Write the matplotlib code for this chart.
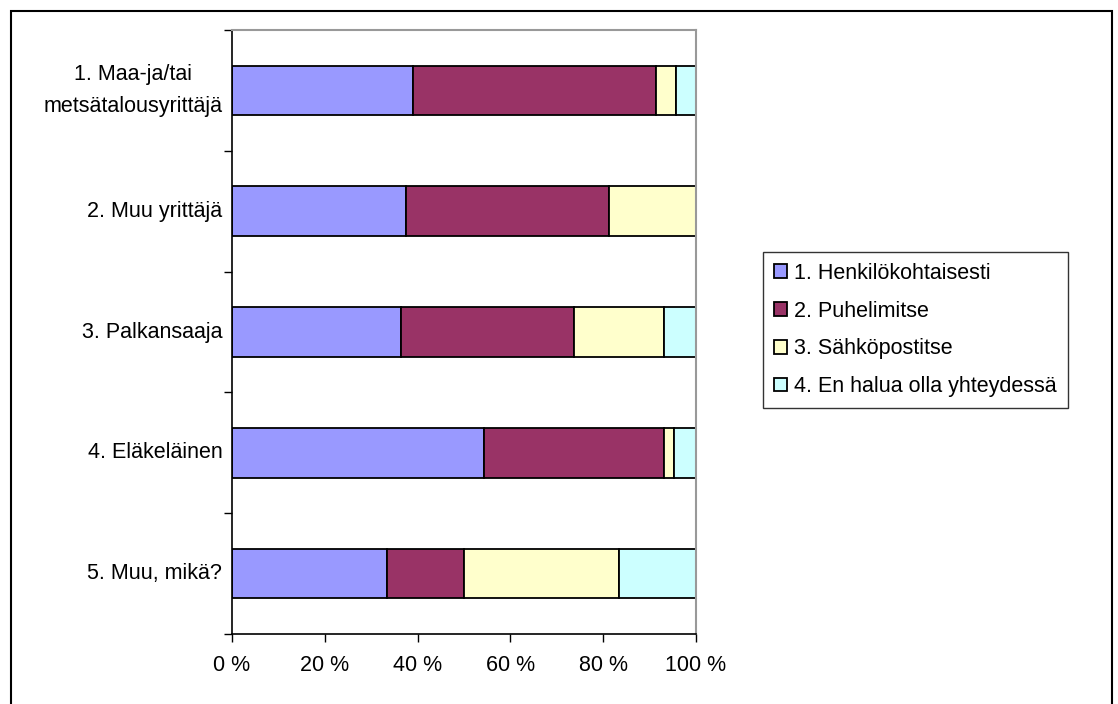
import numpy as np
import matplotlib
matplotlib.use("Agg")
import matplotlib.pyplot as plt
from matplotlib.patches import Rectangle
from matplotlib.ticker import FixedLocator, FuncFormatter

plt.rcParams['font.family'] = ['Liberation Sans', 'DejaVu Sans']

categories = ["1. Maa-ja/tai\nmetsätalousyrittäjä", "2. Muu yrittäjä", "3. Palkansaaja",
              "4. Eläkeläinen", "5. Muu, mikä?"]
series_names = ["1. Henkilökohtaisesti", "2. Puhelimitse", "3. Sähköpostitse",
                "4. En halua olla yhteydessä"]
henkilokohtaisesti = [39.1, 37.5, 36.5, 54.3, 33.3]
puhelimitse = [52.2, 43.75, 37.2, 38.8, 16.7]
sahkopostitse = [4.3, 18.75, 19.4, 2.1, 33.3]
ei_yhteytta = [4.4, 0.0, 6.9, 4.8, 16.7]
colors = ["#9999FF", "#993366", "#FFFFCC", "#CCFFFF"]

W, H = 1118, 704
fs = 15.5
fig = plt.figure(figsize=(W / 100, H / 100), dpi=100)
ax = fig.add_axes([232 / W, (H - 634) / H, 464 / W, 604 / H])

y = np.arange(len(categories))
left = np.zeros(len(categories))
for name, vals, col in zip(series_names,
                           [henkilokohtaisesti, puhelimitse, sahkopostitse, ei_yhteytta],
                           colors):
    vals = np.array(vals)
    ax.barh(y, vals, left=left, height=0.41, color=col, edgecolor="black",
            linewidth=1.3, label=name)
    left += vals

ax.set_xlim(0, 100)
ax.set_ylim(len(categories) - 0.5, -0.5)

ax.set_xticks(np.arange(0, 101, 20))
ax.xaxis.set_major_formatter(FuncFormatter(lambda v, p: f"{int(v)} %"))
ax.tick_params(axis="x", direction="out", length=6, width=1, pad=9, labelsize=fs)

# category boundaries get the ticks, centers get the labels
ax.yaxis.set_major_locator(FixedLocator(np.arange(-0.5, len(categories), 1.0)))
ax.yaxis.set_major_formatter(FuncFormatter(lambda v, p: ""))
ax.yaxis.set_minor_locator(FixedLocator(y))
ax.set_yticklabels(categories, minor=True)
ax.tick_params(axis="y", which="major", direction="out", length=6, width=1)
ax.tick_params(axis="y", which="minor", length=0, pad=7, labelsize=fs)
for lab in ax.get_yticklabels(minor=True):
    lab.set_multialignment("center")
    lab.set_verticalalignment("center")
    lab.set_linespacing(1.7)

for s in ["left", "bottom"]:
    ax.spines[s].set_color("black")
    ax.spines[s].set_linewidth(1.2)
for s in ["top", "right"]:
    ax.spines[s].set_color("#999999")
    ax.spines[s].set_linewidth(1.5)

leg = ax.legend(loc="center left", bbox_to_anchor=(763 / W, (H - 330) / H),
                bbox_transform=fig.transFigure, fontsize=fs, frameon=True,
                fancybox=False, edgecolor="black", handlelength=0.6, handleheight=0.6,
                handletextpad=0.35, labelspacing=0.78, borderpad=0.5, borderaxespad=0)
leg.get_frame().set_linewidth(1)

fig.patches.append(Rectangle((11 / W, -0.02), (1112 - 11) / W, (H - 11) / H + 0.02,
                             transform=fig.transFigure, fill=False,
                             edgecolor="black", linewidth=1.5))

fig.savefig("out.png", dpi=100)
